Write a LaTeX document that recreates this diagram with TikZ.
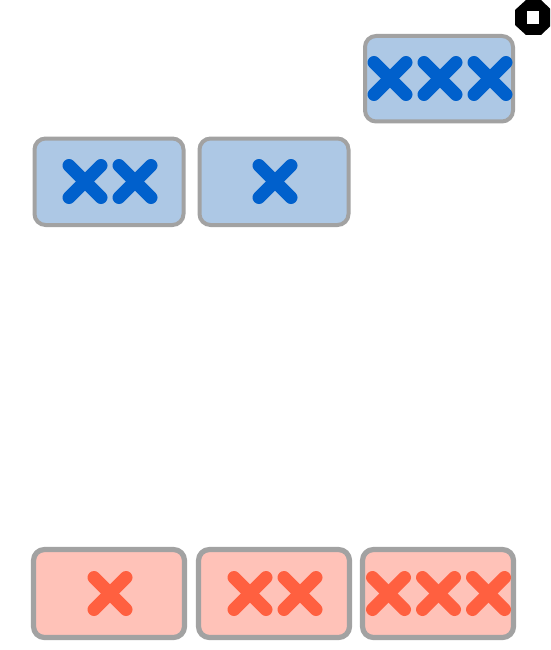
\documentclass[tikz,border=0pt]{standalone}
\definecolor{bluefill}{HTML}{ADC8E5}
\definecolor{bluemark}{HTML}{0060CC}
\definecolor{redfill}{HTML}{FFC2B8}
\definecolor{redmark}{HTML}{FF6040}
\definecolor{edgegray}{HTML}{A2A2A2}
\tikzset{
  bluebox/.style={draw=edgegray,fill=bluefill,line width=4pt,rounded corners=11pt},
  redbox/.style={draw=edgegray,fill=redfill,line width=5.2pt,rounded corners=11pt},
  crossline/.style={line width=13pt,line cap=round},
  pics/crossmark/.style={code={
    \draw[crossline,#1] (-16,-16) -- (16,16);
    \draw[crossline,#1] (-16,16) -- (16,-16);
  }}
}
\begin{document}
\begin{tikzpicture}[x=1pt,y=-1pt]
\useasboundingbox (0,0) rectangle (550,650);
\clip (0,0) rectangle (550,650);
% stop icon
\fill[black] (526,0) -- (541,0) -- (551.5,10) -- (551.5,25) -- (541,35) -- (526,35) -- (515,25) -- (515,10) -- cycle;
\fill[white] (526.7,11) rectangle (539.3,24);
% blue boxes
\draw[bluebox] (365,36) rectangle (513,121.5);
\draw[bluebox] (34.5,138.5) rectangle (183.5,225);
\draw[bluebox] (199.5,138.5) rectangle (348.5,225);
\foreach \px/\py in {390/78.5,440/78.5,490/78.5,85/181.5,135/181.5,275/181.5}
  \pic at (\px,\py) {crossmark=bluemark};
% red boxes
\draw[redbox] (33.5,549.5) rectangle (184.5,637.5);
\draw[redbox] (198.5,549.5) rectangle (349.5,637.5);
\draw[redbox] (362.5,549.5) rectangle (513.5,637.5);
\foreach \px/\py in {110/593.5,250/593.5,300/593.5,388.5/593.5,438.5/593.5,488.5/593.5}
  \pic at (\px,\py) {crossmark=redmark};
\end{tikzpicture}
\end{document}
